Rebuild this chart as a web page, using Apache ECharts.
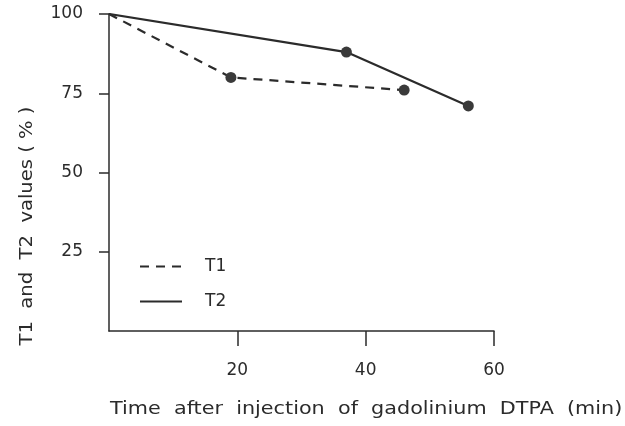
<!DOCTYPE html>
<html>
<head>
<meta charset="utf-8">
<script src="https://cdn.jsdelivr.net/npm/echarts@6/dist/echarts.min.js"></script>
<style>
  html, body { margin: 0; padding: 0; background: #fff; }
  #main { width: 625px; height: 426px; }
</style>
</head>
<body>
<div id="main"></div>
<script>
// data
var t1Times = [0, 19, 46];
var t1Values = [100, 80, 76];
var t2Times = [0, 37, 56];
var t2Values = [100, 88, 71];
var xTicks = [20, 40, 60];
var yTicks = [25, 50, 75, 100];

var ink = '#2b2b2b';
var font = 'DejaVu Sans';

// first point (time 0) has no dot
function toPoints(times, values) {
    return times.map(function(t, i) {
        var p = { value: [t, values[i]] };
        if (i === 0) p.symbol = 'none';
        return p;
    });
}

var chart = echarts.init(document.getElementById('main'));

chart.setOption({
    animation: false,
    backgroundColor: '#fff',
    grid: { left: 109, right: 131, top: 14, bottom: 95 },
    legend: {
        orient: 'vertical',
        left: 134,
        top: 253,
        itemWidth: 42,
        itemHeight: 14,
        itemGap: 18,
        itemStyle: { opacity: 0 },
        textStyle: {
            fontFamily: font, fontSize: 17, color: ink,
            verticalAlign: 'bottom', padding: [0, 0, 0, 18]
        },
        data: ['T1', 'T2']
    },
    xAxis: {
        type: 'value',
        min: 0,
        max: 60,
        interval: 20,
        splitLine: { show: false },
        axisLine: { lineStyle: { color: ink, width: 1.5 } },
        axisTick: { length: 15, customValues: xTicks, lineStyle: { color: ink, width: 1.5 } },
        axisLabel: { customValues: xTicks, margin: 31, fontFamily: font, fontSize: 17, color: ink }
    },
    yAxis: {
        type: 'value',
        min: 0,
        max: 100,
        interval: 25,
        splitLine: { show: false },
        axisLine: { lineStyle: { color: ink, width: 1.5 } },
        axisTick: { length: 10, customValues: yTicks, lineStyle: { color: ink, width: 1.5 } },
        axisLabel: { customValues: yTicks, margin: 26, fontFamily: font, fontSize: 17, color: ink }
    },
    graphic: [
        {
            type: 'text',
            x: 110,
            y: 410,
            scaleX: 1.22,
            style: {
                text: 'Time  after  injection  of  gadolinium  DTPA  (min)',
                font: '17px ' + font,
                fill: ink,
                align: 'left',
                verticalAlign: 'middle'
            }
        },
        {
            type: 'text',
            x: 28,
            y: 226,
            rotation: Math.PI / 2,
            scaleX: 1.15,
            style: {
                text: 'T1  and  T2  values ( % )',
                font: '17px ' + font,
                fill: ink,
                align: 'center',
                verticalAlign: 'middle'
            }
        }
    ],
    series: [
        {
            name: 'T1',
            type: 'line',
            data: toPoints(t1Times, t1Values),
            symbol: 'circle',
            symbolSize: 11,
            itemStyle: { color: '#3a3a3a' },
            lineStyle: { color: ink, width: 2.2, type: [9, 7] }
        },
        {
            name: 'T2',
            type: 'line',
            data: toPoints(t2Times, t2Values),
            symbol: 'circle',
            symbolSize: 11,
            itemStyle: { color: '#3a3a3a' },
            lineStyle: { color: ink, width: 2.2 }
        }
    ]
});
</script>
</body>
</html>
